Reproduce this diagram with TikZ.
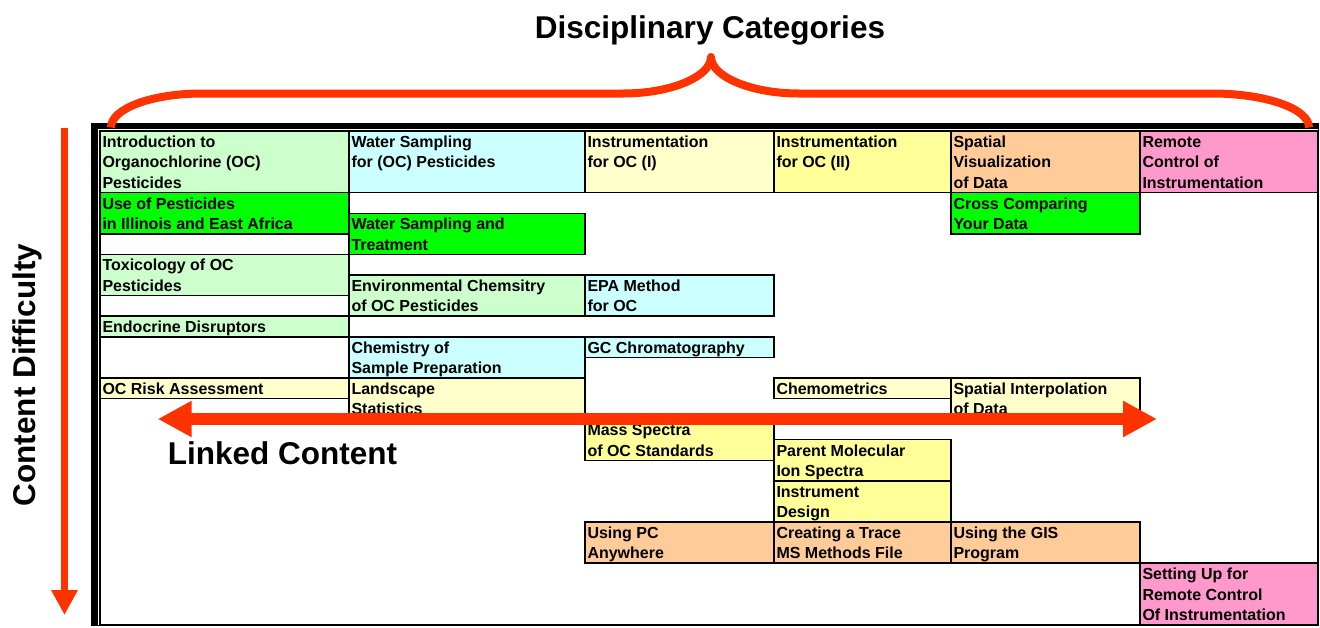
\documentclass[tikz,border=0pt]{standalone}
\usepackage{fontspec}
\setmainfont{Liberation Sans}
\usetikzlibrary{arrows.meta}
\definecolor{lgreen}{HTML}{CCFFCC}
\definecolor{bgreen}{HTML}{00FF00}
\definecolor{lcyan}{HTML}{CCFFFF}
\definecolor{lyellow}{HTML}{FFFFCC}
\definecolor{myellow}{HTML}{FFFF99}
\definecolor{morange}{HTML}{FFCC99}
\definecolor{mpink}{HTML}{FF99CC}
\definecolor{arrowred}{HTML}{FF3300}
\tikzset{
  cellbox/.style={draw=black, line width=1.5pt, inner sep=0pt, outer sep=0pt, anchor=north west},
  celltext/.style={anchor=north west, inner sep=0pt, outer sep=0pt, xshift=2.5pt, align=left,
    font=\bfseries\fontsize{16}{20.58}\selectfont},
  bigtext/.style={font=\bfseries\fontsize{31.5}{36}\selectfont, inner sep=0pt},
  redline/.style={draw=arrowred}
}
\newcommand\mkcell[7]{%
  \node[cellbox, fill=#6, minimum width={#3-#2}, minimum height={#5*20.58}] (#1) at (#2,{131+#4*20.58}) {};
  \node[celltext] (#1-t) at (#1.north west) {\rule{0pt}{16.3pt}#7};
}
\begin{document}
\begin{tikzpicture}[x=1pt,y=-1pt]
\useasboundingbox (0,0) rectangle (1320,627);
% frame
\fill[black] (90.5,123) rectangle (1319.2,626.3);
\fill[white] (97.5,128.5) rectangle (1318,625);
\draw[black, line width=1.2pt] (100,131) rectangle (1318,625);
% cells
\mkcell{intro}{100}{349}{0}{3}{lgreen}{Introduction to\\Organochlorine (OC)\\Pesticides}
\mkcell{ws}{349}{585}{0}{3}{lcyan}{Water Sampling\\for (OC) Pesticides}
\mkcell{insta}{585}{774}{0}{3}{lyellow}{Instrumentation\\for OC (I)}
\mkcell{instb}{774}{951}{0}{3}{myellow}{Instrumentation\\for OC (II)}
\mkcell{spvis}{951}{1140}{0}{3}{morange}{Spatial\\Visualization\\of Data}
\mkcell{remote}{1140}{1318}{0}{3}{mpink}{Remote\\Control of\\Instrumentation}
\mkcell{use}{100}{349}{3}{2}{bgreen}{Use of Pesticides\\in Illinois and East Africa}
\mkcell{wst}{349}{585}{4}{2}{bgreen}{Water Sampling and\\Treatment}
\mkcell{cross}{951}{1140}{3}{2}{bgreen}{Cross Comparing\\Your Data}
\mkcell{tox}{100}{349}{6}{2}{lgreen}{Toxicology of OC\\Pesticides}
\mkcell{env}{349}{585}{7}{2}{lgreen}{Environmental Chemsitry\\of OC Pesticides}
\mkcell{epa}{585}{774}{7}{2}{lcyan}{EPA Method\\for OC}
\mkcell{endo}{100}{349}{9}{1}{lgreen}{Endocrine Disruptors}
\mkcell{chem}{349}{585}{10}{2}{lcyan}{Chemistry of\\Sample Preparation}
\mkcell{gc}{585}{774}{10}{1}{lcyan}{GC Chromatography}
\mkcell{risk}{100}{349}{12}{1}{lyellow}{OC Risk Assessment}
\mkcell{land}{349}{585}{12}{2}{lyellow}{Landscape\\Statistics}
\mkcell{chemo}{774}{951}{12}{1}{lyellow}{Chemometrics}
\mkcell{spint}{951}{1140}{12}{2}{lyellow}{Spatial Interpolation\\of Data}
\mkcell{mass}{585}{774}{14}{2}{myellow}{Mass Spectra\\of OC Standards}
\mkcell{parent}{774}{951}{15}{2}{myellow}{Parent Molecular\\Ion Spectra}
\mkcell{instd}{774}{951}{17}{2}{myellow}{Instrument\\Design}
\mkcell{pc}{585}{774}{19}{2}{morange}{Using PC\\Anywhere}
\mkcell{trace}{774}{951}{19}{2}{morange}{Creating a Trace\\MS Methods File}
\mkcell{gis}{951}{1140}{19}{2}{morange}{Using the GIS\\Program}
\mkcell{setup}{1140}{1318}{21}{3}{mpink}{Setting Up for\\Remote Control\\Of Instrumentation}
% brace
\coordinate (bl) at (111,127.5);
\coordinate (btip) at (711,57);
\coordinate (br) at (1309,127.5);
\draw[redline, line width=8pt, line join=round]
  (bl) .. controls (111,108.5) and (151.8,93.5) .. (202,93.5) -- (623,93.5)
  .. controls (671.6,93.5) and (711,76.3) .. (btip)
  .. controls (711,76.3) and (750.4,93.5) .. (799,93.5) -- (1212,93.5)
  .. controls (1265.5,93.5) and (1309,108.5) .. (br);
% vertical arrow
\coordinate (vtop) at (64.5,127.5);
\coordinate (vtip) at (64.5,615);
\draw[redline, line width=7pt, -{Triangle[length=25pt,width=25pt]}] (vtop) -- (vtip);
% horizontal double arrow
\coordinate (hl) at (157.7,419);
\coordinate (hr) at (1157,419);
\draw[redline, line width=12pt, {Triangle[length=34pt,width=34pt]}-{Triangle[length=34pt,width=34pt]}] (hl) -- (hr);
% labels
\node[bigtext, anchor=base] (title) at (710,38) {Disciplinary Categories};
\node[bigtext, anchor=base west] (linked) at (167.7,464.3) {Linked Content};
\node[bigtext, anchor=base, rotate=90] (difficulty) at (35,375) {Content Difficulty};
\end{tikzpicture}
\end{document}
